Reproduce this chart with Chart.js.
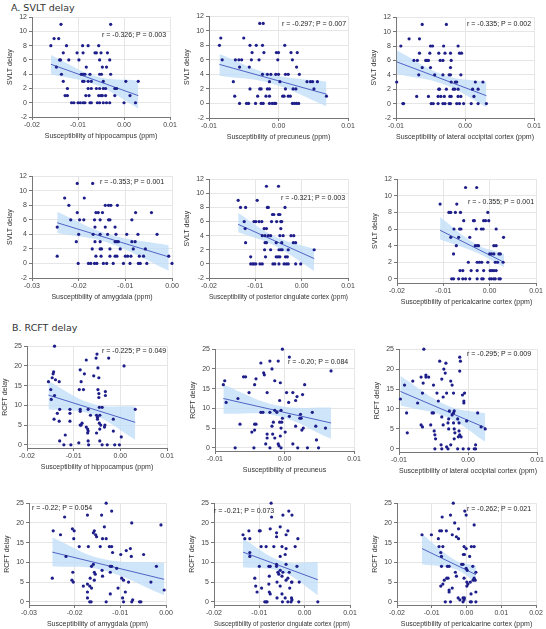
<!DOCTYPE html>
<html lang="en">
<head>
<meta charset="UTF-8">
<title>Delay recall vs susceptibility</title>
<script src="https://cdn.jsdelivr.net/npm/chart.js"></script>
<style>
  body { margin: 0; width: 546px; height: 629px; background: #fff; position: relative; overflow: hidden; font-family: "Liberation Sans", Arial, sans-serif; }
  canvas { position: absolute; }
  .sec { position: absolute; font-family: "DejaVu Sans", sans-serif; font-size: 9.5px; color: #333; white-space: nowrap; }
  .note { position: absolute; font-size: 7px; line-height: 8px; color: #222; white-space: nowrap; }
</style>
</head>
<body>
<div class="sec" style="left:11px;top:2px">A. SVLT delay</div>
<div class="sec" style="left:12px;top:322px">B. RCFT delay</div>
<script>
// ---- A. SVLT delay : [susceptibility (ppm), score]
const svltHippo = [[-0.0137,11],[-0.0029,11],[-0.0159,8],[-0.0152,9],[-0.0142,9],[-0.0125,8],[-0.0090,8],[-0.0078,8],[-0.0055,8],[-0.0140,6],[-0.0138,6],[-0.0132,7],[-0.0102,7],[-0.0098,6],[-0.0089,7],[-0.0063,7],[-0.0060,7],[-0.0050,7],[-0.0036,7],[-0.0120,6],[-0.0053,6],[-0.0031,6],[-0.0147,5],[-0.0082,5],[-0.0047,5],[-0.0038,5],[-0.0136,4],[-0.0093,4],[-0.0089,4],[-0.0085,4],[-0.0074,4],[-0.0053,4],[-0.0049,4],[-0.0029,4],[-0.0132,3],[-0.0090,3],[-0.0087,3],[-0.0078,3],[-0.0071,3],[-0.0045,3],[0.0004,3],[0.0031,3],[-0.0123,2],[-0.0078,2],[-0.0071,2],[-0.0060,2],[-0.0053,2],[-0.0045,2],[-0.0040,2],[-0.0020,2],[-0.0016,2],[-0.0128,1],[-0.0123,1],[-0.0083,1],[-0.0076,1],[-0.0055,1],[-0.0050,1],[-0.0047,1],[-0.0040,1],[-0.0020,1],[0.0013,1],[-0.0114,0],[-0.0109,0],[-0.0100,0],[-0.0095,0],[-0.0089,0],[-0.0085,0],[-0.0074,0],[-0.0071,0],[-0.0058,0],[-0.0053,0],[-0.0045,0],[-0.0038,0],[-0.0031,0],[0.0000,0],[0.0025,0]];
const svltPrecu = [[-0.0027,11],[-0.0022,11],[-0.0083,9],[-0.0050,9],[-0.0085,8],[-0.0041,8],[-0.0032,8],[-0.0023,8],[0.0009,8],[-0.0038,7],[-0.0021,7],[-0.0003,7],[0.0000,7],[0.0018,7],[0.0027,7],[-0.0081,6],[-0.0062,6],[-0.0057,6],[-0.0053,6],[-0.0039,6],[-0.0028,6],[-0.0001,6],[0.0020,6],[-0.0056,5],[-0.0042,5],[0.0026,5],[-0.0023,4],[-0.0016,4],[-0.0011,4],[-0.0004,4],[0.0000,4],[0.0010,4],[0.0014,4],[0.0030,4],[-0.0065,3],[-0.0013,3],[0.0002,3],[0.0041,3],[0.0046,3],[0.0049,3],[0.0056,3],[-0.0041,2],[-0.0027,2],[-0.0025,2],[-0.0016,2],[-0.0013,2],[0.0010,2],[0.0021,2],[0.0025,2],[0.0051,2],[-0.0063,1],[-0.0030,1],[-0.0018,1],[-0.0013,1],[0.0006,1],[0.0008,1],[0.0014,1],[0.0017,1],[0.0069,1],[-0.0056,0],[-0.0046,0],[-0.0043,0],[-0.0033,0],[-0.0025,0],[-0.0022,0],[-0.0013,0],[-0.0009,0],[-0.0006,0],[-0.0004,0],[0.0020,0],[0.0023,0],[0.0026,0],[0.0029,0]];
const svltLatOcc = [[-0.0062,11],[-0.0027,11],[-0.0081,9],[-0.0066,9],[-0.0093,8],[-0.0050,8],[-0.0047,8],[-0.0031,8],[-0.0010,8],[-0.0066,7],[-0.0051,7],[-0.0038,7],[-0.0029,7],[-0.0021,7],[-0.0008,7],[-0.0005,7],[-0.0074,6],[-0.0069,6],[-0.0057,6],[-0.0055,6],[-0.0053,6],[-0.0036,6],[-0.0032,6],[-0.0020,6],[-0.0062,5],[-0.0050,5],[-0.0021,5],[-0.0067,4],[-0.0044,4],[-0.0032,4],[-0.0023,4],[-0.0021,4],[-0.0006,4],[-0.0099,3],[-0.0020,3],[-0.0014,3],[-0.0012,3],[0.0015,3],[0.0026,3],[-0.0038,2],[-0.0037,2],[-0.0027,2],[-0.0017,2],[-0.0015,2],[-0.0010,2],[0.0011,2],[0.0019,2],[-0.0070,1],[-0.0053,1],[-0.0039,1],[-0.0035,1],[-0.0030,1],[-0.0022,1],[-0.0020,1],[-0.0010,1],[-0.0006,1],[0.0013,1],[-0.0090,0],[-0.0089,0],[-0.0049,0],[-0.0046,0],[-0.0039,0],[-0.0032,0],[-0.0029,0],[-0.0023,0],[-0.0021,0],[-0.0012,0],[-0.0008,0],[-0.0002,0],[0.0009,0],[0.0019,0],[0.0031,0]];
const svltAmyg = [[-0.0203,11],[-0.0170,11],[-0.0230,9],[-0.0188,9],[-0.0221,8],[-0.0143,8],[-0.0136,8],[-0.0131,8],[-0.0117,8],[-0.0203,7],[-0.0163,7],[-0.0158,7],[-0.0149,7],[-0.0078,7],[-0.0044,7],[-0.0217,6],[-0.0198,6],[-0.0189,6],[-0.0166,6],[-0.0154,6],[-0.0136,6],[-0.0133,6],[-0.0086,6],[-0.0246,5],[-0.0165,5],[-0.0143,5],[-0.0122,5],[-0.0200,4],[-0.0169,4],[-0.0154,4],[-0.0138,4],[-0.0120,4],[-0.0097,4],[-0.0073,4],[-0.0032,4],[-0.0205,3],[-0.0165,3],[-0.0154,3],[-0.0122,3],[-0.0118,3],[-0.0115,3],[-0.0086,3],[-0.0079,3],[-0.0171,2],[-0.0154,2],[-0.0151,2],[-0.0133,2],[-0.0111,2],[-0.0083,2],[-0.0057,2],[-0.0246,1],[-0.0163,1],[-0.0152,1],[-0.0133,1],[-0.0122,1],[-0.0118,1],[-0.0100,1],[-0.0095,1],[-0.0088,1],[-0.0070,1],[-0.0061,1],[-0.0007,1],[-0.0201,0],[-0.0179,0],[-0.0174,0],[-0.0166,0],[-0.0161,0],[-0.0147,0],[-0.0140,0],[-0.0126,0],[-0.0104,0],[-0.0090,0],[-0.0072,0],[-0.0068,0],[-0.0054,0],[0.0000,0]];
const svltPcc = [[-0.0076,11],[-0.0050,11],[-0.0137,9],[-0.0096,9],[-0.0132,8],[-0.0121,8],[-0.0074,8],[-0.0072,8],[-0.0036,8],[-0.0063,7],[-0.0060,7],[-0.0050,7],[-0.0047,7],[-0.0124,6],[-0.0103,6],[-0.0099,6],[-0.0092,6],[-0.0086,6],[-0.0065,6],[-0.0054,6],[-0.0045,6],[-0.0043,6],[-0.0122,5],[-0.0081,5],[-0.0076,5],[-0.0045,5],[-0.0085,4],[-0.0079,4],[-0.0072,4],[-0.0067,4],[-0.0047,4],[-0.0040,4],[-0.0023,4],[-0.0017,4],[-0.0121,3],[-0.0079,3],[-0.0076,3],[-0.0055,3],[-0.0043,3],[-0.0018,3],[-0.0013,3],[-0.0080,2],[-0.0067,2],[-0.0049,2],[-0.0045,2],[-0.0042,2],[-0.0029,2],[0.0027,2],[-0.0110,1],[-0.0078,1],[-0.0055,1],[-0.0051,1],[-0.0047,1],[-0.0035,1],[-0.0031,1],[-0.0110,0],[-0.0106,0],[-0.0103,0],[-0.0099,0],[-0.0090,0],[-0.0085,0],[-0.0062,0],[-0.0058,0],[-0.0049,0],[-0.0038,0],[-0.0033,0],[-0.0029,0],[-0.0013,0],[-0.0002,0]];
const svltPeri = [[-0.0052,11],[-0.0028,11],[-0.0107,9],[-0.0071,9],[-0.0088,8],[-0.0084,8],[-0.0074,8],[-0.0063,8],[-0.0004,8],[-0.0056,7],[-0.0035,7],[-0.0033,7],[-0.0013,7],[-0.0009,7],[-0.0002,7],[-0.0077,6],[-0.0065,6],[-0.0062,6],[-0.0029,6],[-0.0018,6],[-0.0014,6],[0.0014,6],[-0.0084,5],[-0.0067,5],[-0.0043,5],[0.0030,5],[-0.0072,4],[-0.0031,4],[-0.0027,4],[-0.0024,4],[0.0009,4],[0.0014,4],[-0.0078,3],[0.0000,3],[0.0004,3],[0.0009,3],[0.0020,3],[0.0023,3],[-0.0046,2],[-0.0027,2],[-0.0022,2],[-0.0017,2],[-0.0004,2],[0.0012,2],[0.0017,2],[0.0029,2],[-0.0064,1],[-0.0058,1],[-0.0040,1],[-0.0027,1],[-0.0013,1],[0.0001,1],[0.0005,1],[0.0009,1],[0.0014,1],[-0.0082,0],[-0.0078,0],[-0.0067,0],[-0.0058,0],[-0.0052,0],[-0.0043,0],[-0.0027,0],[-0.0017,0],[-0.0014,0],[0.0000,0],[0.0004,0],[0.0009,0],[0.0012,0],[0.0020,0],[0.0023,0]];

// ---- B. RCFT delay
const rcftHippo = [[-0.0141,25],[-0.0050,23],[-0.0052,22],[-0.0025,22],[-0.0073,21.5],[0.0008,20],[-0.0048,19.5],[-0.0086,19],[-0.0143,18.5],[-0.0144,18],[-0.0077,18],[-0.0057,17.5],[-0.0146,17],[-0.0046,17],[-0.0139,16.5],[-0.0154,16],[-0.0131,16],[-0.0084,16],[-0.0088,14],[-0.0079,14],[-0.0149,14],[-0.0048,14],[-0.0032,13.5],[-0.0046,13],[-0.0032,12.5],[-0.0141,12.5],[-0.0148,11.5],[-0.0046,12],[-0.0045,9.5],[-0.0039,9.5],[-0.0130,9],[-0.0108,9],[-0.0086,9],[-0.0086,8.5],[-0.0069,9],[0.0032,9],[-0.0135,8],[-0.0108,8],[-0.0064,7.5],[-0.0051,7.5],[-0.0044,7.5],[-0.0049,7],[-0.0049,6.5],[-0.0015,6.5],[-0.0142,6.5],[-0.0131,6],[-0.0108,6],[-0.0082,5.5],[-0.0084,5],[-0.0086,5],[-0.0045,5.5],[-0.0042,5],[-0.0033,5],[-0.0034,4.5],[-0.0073,4.5],[-0.0070,4],[-0.0044,4],[-0.0069,3.5],[-0.0015,3.5],[-0.0070,3],[-0.0051,3],[-0.0118,2.5],[0.0002,2],[-0.0130,1],[-0.0069,1],[-0.0089,0.5],[-0.0121,0],[-0.0106,0],[-0.0068,0],[-0.0044,1],[-0.0039,0],[-0.0028,0],[-0.0012,0],[-0.0002,0]];
const rcftPrecu = [[-0.0003,25],[0.0007,23],[-0.0021,22],[-0.0009,22],[-0.0034,21.5],[-0.0018,20],[0.0067,19.5],[-0.0030,19],[-0.0029,18.5],[-0.0059,18],[-0.0056,18],[-0.0041,17.5],[-0.0086,17],[-0.0014,17],[-0.0006,16.5],[-0.0088,16],[-0.0043,16],[0.0029,16],[-0.0051,14],[-0.0025,14],[0.0003,14],[0.0012,14],[0.0026,13.5],[0.0018,13],[-0.0067,12.5],[-0.0007,12],[0.0016,12],[-0.0084,11.5],[0.0006,11.5],[-0.0034,9],[-0.0031,9],[-0.0021,9],[-0.0014,9.5],[-0.0011,9],[-0.0005,9.5],[0.0040,9],[0.0007,8],[0.0023,8.5],[0.0022,7.5],[0.0024,7.5],[-0.0003,7.5],[-0.0016,6.5],[-0.0007,6.5],[-0.0004,6.5],[-0.0064,6],[-0.0043,6],[-0.0041,6],[-0.0018,5.5],[0.0016,5.5],[0.0045,5.5],[-0.0005,5],[0.0027,5],[0.0059,5],[-0.0043,4.5],[0.0025,4.5],[-0.0047,4],[0.0001,4],[-0.0025,3.5],[-0.0017,3.5],[-0.0025,2.5],[-0.0014,2.5],[-0.0006,3],[0.0046,2],[-0.0027,1],[-0.0009,1],[0.0012,1],[-0.0008,0.5],[-0.0005,0],[-0.0071,0],[-0.0044,0],[-0.0021,0],[0.0019,0],[0.0033,0],[0.0049,0]];
const rcftLatOcc = [[-0.0064,25],[-0.0012,23],[-0.0011,22],[-0.0041,22],[-0.0032,21.5],[-0.0035,20],[-0.0012,19.5],[-0.0033,19],[-0.0061,18.5],[-0.0068,18],[-0.0061,18],[-0.0057,18],[-0.0038,17.5],[-0.0080,17],[-0.0025,17],[-0.0065,16.5],[-0.0092,16],[-0.0050,16],[-0.0023,16],[-0.0066,14],[-0.0045,14],[-0.0031,14],[-0.0021,14],[-0.0005,14],[-0.0008,13.5],[-0.0036,13],[-0.0098,12.5],[-0.0043,12],[-0.0006,12],[-0.0006,11.5],[-0.0073,11.5],[-0.0089,9],[-0.0052,9],[-0.0050,9],[-0.0027,9.5],[-0.0020,9.5],[-0.0021,9],[-0.0023,8.5],[0.0014,9],[-0.0038,8],[-0.0015,7.5],[-0.0028,7.5],[-0.0002,7],[-0.0029,6.5],[-0.0021,6.5],[-0.0013,6.5],[-0.0068,6],[-0.0054,6],[-0.0036,6],[-0.0066,5.5],[0.0019,5.5],[-0.0028,5],[-0.0020,5],[0.0025,5],[-0.0013,4.5],[-0.0049,4.5],[-0.0088,4],[-0.0019,4],[-0.0048,3.5],[-0.0012,3.5],[-0.0047,2.5],[-0.0020,2.5],[-0.0014,3],[-0.0010,3],[-0.0039,1],[-0.0025,1],[0.0011,1],[-0.0031,0.5],[-0.0048,0],[-0.0038,0],[-0.0029,0],[-0.0015,0],[-0.0007,0],[0.0001,0],[0.0009,0],[0.0011,0]];
const rcftAmyg = [[-0.0131,25],[-0.0119,23],[-0.0141,22],[-0.0172,22],[-0.0222,21.5],[-0.0075,20],[-0.0011,19.5],[-0.0135,19],[-0.0205,18.5],[-0.0247,18],[-0.0201,18],[-0.0157,18],[-0.0159,17.5],[-0.0231,17],[-0.0154,17],[-0.0152,16.5],[-0.0202,16],[-0.0139,16],[-0.0131,16],[-0.0190,14],[-0.0170,14],[-0.0144,14],[-0.0124,14],[-0.0119,14],[-0.0078,13.5],[-0.0087,13],[-0.0117,12.5],[-0.0099,12],[-0.0049,12],[-0.0219,11.5],[-0.0076,11.5],[-0.0021,9],[-0.0163,9],[-0.0159,9.5],[-0.0122,9],[-0.0119,9],[-0.0108,8.5],[-0.0140,8],[-0.0157,7.5],[-0.0122,7.5],[-0.0204,7.5],[-0.0155,7],[-0.0139,6.5],[-0.0166,6],[-0.0249,6],[-0.0097,6],[-0.0206,5.5],[-0.0203,5],[-0.0157,5.5],[-0.0093,5.5],[-0.0082,5],[-0.0033,5],[-0.0172,4.5],[-0.0167,4],[-0.0181,4],[-0.0163,3.5],[-0.0105,3.5],[-0.0004,3],[-0.0172,2.5],[-0.0089,2.5],[-0.0122,2],[-0.0172,1],[-0.0095,1],[-0.0073,0.5],[-0.0167,0],[-0.0164,0],[-0.0131,0],[-0.0093,0],[-0.0075,0],[-0.0058,0],[-0.0055,0]];
const rcftPcc = [[-0.0074,25],[-0.0035,23],[-0.0048,22],[-0.0028,22],[-0.0073,21.5],[-0.0054,19],[-0.0076,18.5],[-0.0123,18],[-0.0100,18],[-0.0098,18],[-0.0037,18],[-0.0136,17],[-0.0041,17],[-0.0062,17.5],[-0.0062,16.5],[-0.0132,16],[-0.0121,16],[-0.0015,16],[-0.0096,14],[-0.0085,14],[-0.0068,14],[-0.0050,14],[-0.0021,14],[-0.0041,13.5],[-0.0121,12.5],[-0.0043,12],[-0.0121,11.5],[-0.0054,11.5],[-0.0100,9],[-0.0079,9],[-0.0076,9],[-0.0062,9],[-0.0041,9.5],[-0.0017,9],[-0.0062,9.5],[-0.0054,8],[-0.0048,7.5],[-0.0059,7.5],[-0.0034,7.5],[-0.0057,7],[-0.0050,6.5],[-0.0078,6.5],[-0.0110,6],[-0.0037,6],[-0.0029,5],[-0.0028,5],[-0.0041,5.5],[-0.0061,5],[-0.0012,5],[-0.0079,4.5],[-0.0054,4],[-0.0108,4],[-0.0033,3.5],[-0.0095,3.5],[-0.0105,2.5],[-0.0078,2.5],[-0.0076,2],[-0.0050,2],[-0.0061,1],[-0.0043,1],[-0.0029,1],[-0.0028,0.5],[-0.0088,0],[-0.0085,0],[-0.0083,0],[-0.0049,0],[-0.0037,0],[-0.0030,0],[-0.0013,0],[0.0029,0]];
const rcftPeri = [[-0.0038,25],[-0.0005,23],[-0.0001,22],[-0.0046,22],[-0.0070,21.5],[-0.0034,20],[0.0022,19.5],[-0.0023,18.5],[-0.0077,18],[-0.0072,18],[-0.0058,18],[-0.0101,17],[-0.0041,17],[-0.0029,16.5],[-0.0023,16],[-0.0081,16],[-0.0128,17],[-0.0079,14],[-0.0068,14],[-0.0007,14],[0.0014,14],[0.0022,14],[-0.0001,13.5],[-0.0074,12.5],[-0.0009,12],[-0.0006,12],[-0.0072,11.5],[0.0009,11.5],[-0.0014,9.5],[-0.0010,9.5],[-0.0072,9],[-0.0055,9],[-0.0050,9],[0.0018,9],[-0.0001,8.5],[0.0002,8],[-0.0032,7.5],[0.0027,7.5],[-0.0029,6.5],[-0.0057,6],[-0.0053,6],[-0.0007,6],[0.0022,6],[-0.0064,5.5],[0.0019,5.5],[0.0025,5.5],[0.0011,5],[0.0001,5],[-0.0068,4.5],[0.0004,4.5],[-0.0074,4],[0.0001,4],[-0.0050,3],[-0.0050,2.5],[-0.0041,3.5],[0.0027,2.5],[0.0013,2],[-0.0024,1],[-0.0010,1],[-0.0006,1],[-0.0019,0.5],[-0.0007,0.5],[-0.0061,0],[-0.0046,0],[-0.0010,0],[0.0011,0],[0.0014,0],[0.0027,0]];

// regression line ends, and 95% band read at left / middle / right x
const bandX = [[-0.0159,-0.006,0.0031],[-0.0085,-0.001,0.0069],[-0.0099,-0.003,0.0031],[-0.0246,-0.014,-0.0007],[-0.0137,-0.006,0.0027],[-0.0107,-0.003,0.0031],
               [-0.0154,-0.006,0.0032],[-0.0088,-0.001,0.0067],[-0.0098,-0.003,0.0025],[-0.0249,-0.014,-0.0004],[-0.0136,-0.005,0.0029],[-0.0128,-0.003,0.0027]];
const fitY  = [[5.4,1.0],[5.37,1.28],[5.8,1.1],[5.6,0.9],[5.6,0.75],[5.85,2.0],[12.6,5.7],[12.5,6.3],[14.4,5.3],[12.6,5.7],[12.6,5.6],[13.5,6.9]];
const bandHi = [[6.7,3.7,3.1],[6.8,4.0,3.0],[7.4,3.95,3.05],[7.1,4.1,2.5],[7.2,3.95,2.1],[7.45,4.2,3.0],[16.1,10.4,9.7],[16.0,10.7,10.2],[18.3,10.9,8.9],[16.3,10.9,9.85],[16.0,10.3,10.1],[17.1,10.4,9.2]];
const bandLo = [[4.0,2.5,-0.8],[3.8,2.75,-0.4],[4.1,2.65,-0.5],[4.2,2.9,-1.0],[4.5,2.65,-1.0],[4.75,3.2,1.4],[9.0,7.7,1.3],[8.7,8.1,2.3],[10.9,7.9,1.75],[9.0,8.1,1.7],[8.75,7.6,1.7],[9.5,8.2,4.8]];
const notes = ['r = -0.326; P = 0.003','r = -0.297; P = 0.007','r = -0.335; P = 0.002','r = -0.353; P = 0.001','r = -0.321; P = 0.003','r = - 0.355; P = 0.001',
               'r = -0.225; P = 0.049','r = -0.20; P = 0.084','r = -0.295; P = 0.009','r = -0.22; P = 0.054','r = -0.21; P = 0.073','r = -0.262; P = 0.021'];
const xTitles = ['Susceptibility of hippocampus (ppm)','Susceptibility of precuneus (ppm)','Susceptibility of lateral occipital cortex (ppm)',
                 'Susceptibility of amygdala (ppm)','Susceptibility of posterior cingulate cortex (ppm)','Susceptibility of pericalcarine cortex (ppm)',
                 'Susceptibility of hippocampus (ppm)','Susceptibility of precuneus','Susceptibility of lateral occipital cortex (ppm)',
                 'Susceptibility of amygdala (ppm)','Susceptibility of posterior cingulate cortex (ppm)','Susceptibility of pericalcarine cortex (ppm)'];
const series = [svltHippo, svltPrecu, svltLatOcc, svltAmyg, svltPcc, svltPeri, rcftHippo, rcftPrecu, rcftLatOcc, rcftAmyg, rcftPcc, rcftPeri];
const xRanges = [[-0.02,0.01],[-0.01,0.01],[-0.01,0.01],[-0.03,0],[-0.02,0.01],[-0.02,0.01],[-0.02,0.01],[-0.01,0.01],[-0.01,0.01],[-0.03,0],[-0.02,0.01],[-0.02,0.02]];
const yRanges = [[-2,12,2],[-2,12,2],[-2,12,2],[-2,12,2],[-2,12,2],[-0.5,12,2],[-0.8,25,5],[-0.8,25,5],[-0.8,25,5],[-0.8,25,5],[-0.8,25,5],[-0.8,25,5]];

// layout: plot box [left, right, top, bottom] in page px, and note position
const boxes = [[32,170,17,117],[209,348,16,118],[396,534,17,118],[32,172,176,278],[209,348,179,278],[397,536,179,283],
               [27,167,346,448],[215,354,349,451],[399,537,349,452],[29,166,503,605],[214,350,503,605],[397,536,503,605]];
const notePos = [[102,31],[282,20],[467,20],[100,178],[281,194],[468,198],[102,347],[288,358],[467,350],[32,504],[214,507],[467,505]];

const fontFam = '"Liberation Sans", Arial, sans-serif';
const fmtX = v => Math.abs(v) < 1e-9 ? '0.00' : v.toFixed(2);

series.forEach((pts, i) => {
  const [pl, pr, pt, pb] = boxes[i];
  const cv = document.createElement('canvas');
  cv.width = pr - pl + 37;
  cv.height = pb - pt + 30;
  cv.style.left = (pl - 28) + 'px';
  cv.style.top = (pt - 6) + 'px';
  document.body.appendChild(cv);

  const nt = document.createElement('div');
  nt.className = 'note';
  nt.textContent = notes[i];
  nt.style.left = notePos[i][0] + 'px';
  nt.style.top = notePos[i][1] + 'px';
  document.body.appendChild(nt);

  const bx = bandX[i];
  const yTitle = i < 6 ? 'SVLT delay' : 'RCFT delay';
  new Chart(cv, {
    type: 'scatter',
    data: {
      datasets: [
        { data: pts.map(([x, y]) => ({ x, y })), backgroundColor: '#1e1e8a', borderWidth: 0, pointRadius: 1.6, clip: false },
        { data: [{ x: bx[0], y: fitY[i][0] }, { x: bx[2], y: fitY[i][1] }], showLine: true, borderColor: '#5064c4', borderWidth: 1, pointRadius: 0 },
        { data: bx.map((x, k) => ({ x, y: bandHi[i][k] })), showLine: true, tension: 0.4, borderWidth: 0, pointRadius: 0, fill: '+1', backgroundColor: 'rgba(190,220,248,0.75)' },
        { data: bx.map((x, k) => ({ x, y: bandLo[i][k] })), showLine: true, tension: 0.4, borderWidth: 0, pointRadius: 0, fill: false }
      ]
    },
    options: {
      responsive: false,
      animation: false,
      events: [],
      layout: { padding: { top: 6, right: 9, left: 0, bottom: 0 } },
      plugins: { legend: { display: false }, tooltip: { enabled: false } },
      scales: {
        x: {
          min: xRanges[i][0], max: xRanges[i][1],
          afterFit: s => { s.height = 24; },
          ticks: { stepSize: 0.01, callback: fmtX, maxRotation: 0, autoSkip: false, padding: 1, color: '#444', font: { family: fontFam, size: 7 } },
          grid: { color: '#e6e6e6', tickColor: '#777', tickLength: 3 },
          border: { color: '#777' },
          title: { display: true, text: xTitles[i], color: '#333', padding: { top: 0, bottom: 1 }, font: { family: fontFam, size: 7 } }
        },
        y: {
          min: yRanges[i][0], max: yRanges[i][1],
          afterFit: s => { s.width = 28; },
          ticks: { stepSize: yRanges[i][2], includeBounds: false, padding: 2, color: '#444', font: { family: fontFam, size: 7 } },
          grid: { color: '#e6e6e6', tickColor: '#777', tickLength: 3 },
          border: { color: '#777' },
          title: { display: true, text: yTitle, color: '#333', padding: { top: 2, bottom: 0 }, font: { family: fontFam, size: 7 } }
        }
      }
    }
  });
});
</script>
</body>
</html>
